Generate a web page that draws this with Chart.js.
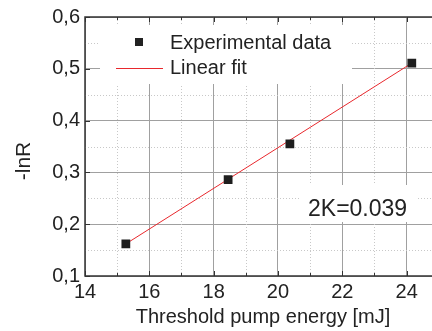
<!DOCTYPE html>
<html>
<head>
<meta charset="utf-8">
<script src="https://cdn.jsdelivr.net/npm/chart.js@4/dist/chart.umd.min.js"></script>
<style>
  html, body { margin: 0; padding: 0; background: #fff; overflow: hidden; }
  #wrap { width: 432px; height: 331px; overflow: hidden; }
</style>
</head>
<body>
<div id="wrap"><canvas id="chart" width="445" height="331"></canvas></div>
<script>
// measured points
const energy = [15.27, 18.45, 20.37, 24.16];
const lnR = [0.162, 0.286, 0.355, 0.511];

// linear fit end points
const fitX = [15.27, 24.16];
const fitY = [0.162, 0.511];

// minor (dotted) grid values
const xMinor = [15, 17, 19, 21, 23, 25];
const yMinor = [0.15, 0.25, 0.35, 0.45, 0.55];

const FONT = '"Liberation Sans", Arial, sans-serif';

const decor = {
    id: 'decor',
    beforeDatasetsDraw(chart) {
        const { ctx, chartArea: a, scales: { x, y } } = chart;
        ctx.save();
        // dotted minor grid
        ctx.strokeStyle = '#c8c8c8';
        ctx.lineWidth = 1;
        ctx.setLineDash([1, 2]);
        xMinor.forEach(v => {
            const px = Math.round(x.getPixelForValue(v)) + 0.5;
            ctx.beginPath(); ctx.moveTo(px, a.top); ctx.lineTo(px, a.bottom); ctx.stroke();
        });
        yMinor.forEach(v => {
            const py = Math.round(y.getPixelForValue(v)) + 0.5;
            ctx.beginPath(); ctx.moveTo(a.left, py); ctx.lineTo(a.right, py); ctx.stroke();
        });
        ctx.setLineDash([]);

        // white boxes behind legend and label
        ctx.fillStyle = '#fff';
        ctx.fillRect(100, 25, 252, 59);
        ctx.fillRect(300, 185, 116, 37);

        // inner ticks
        ctx.strokeStyle = '#333';
        ctx.lineWidth = 1;
        x.ticks.forEach(t => {
            const px = Math.round(x.getPixelForValue(t.value)) + 0.5;
            ctx.beginPath();
            ctx.moveTo(px, a.bottom); ctx.lineTo(px, a.bottom - 5);
            ctx.moveTo(px, a.top); ctx.lineTo(px, a.top + 5);
            ctx.stroke();
        });
        xMinor.forEach(v => {
            const px = Math.round(x.getPixelForValue(v)) + 0.5;
            ctx.beginPath();
            ctx.moveTo(px, a.bottom); ctx.lineTo(px, a.bottom - 3);
            ctx.moveTo(px, a.top); ctx.lineTo(px, a.top + 3);
            ctx.stroke();
        });
        y.ticks.forEach(t => {
            const py = Math.round(y.getPixelForValue(t.value)) + 0.5;
            ctx.beginPath(); ctx.moveTo(a.left, py); ctx.lineTo(a.left + 5, py); ctx.stroke();
        });

        // frame
        ctx.strokeStyle = '#333';
        ctx.lineWidth = 1.5;
        ctx.beginPath();
        ctx.moveTo(a.right, a.top); ctx.lineTo(a.left, a.top);
        ctx.lineTo(a.left, a.bottom); ctx.lineTo(a.right, a.bottom);
        ctx.stroke();
        ctx.restore();
    },
    afterDraw(chart) {
        const { ctx } = chart;
        ctx.save();
        ctx.fillStyle = '#222';
        ctx.textBaseline = 'alphabetic';

        // legend
        ctx.fillRect(135, 38, 8, 8);
        ctx.strokeStyle = '#e8282d';
        ctx.lineWidth = 1;
        ctx.beginPath(); ctx.moveTo(116, 68.5); ctx.lineTo(163, 68.5); ctx.stroke();
        ctx.font = '20px ' + FONT;
        ctx.textAlign = 'left';
        ctx.fillText('Experimental data', 170, 49);
        ctx.fillText('Linear fit', 170, 74);

        // annotation
        ctx.font = '23px ' + FONT;
        ctx.fillText('2K=0.039', 308, 216);

        // axis titles
        ctx.font = '20px ' + FONT;
        ctx.textAlign = 'center';
        ctx.fillText('Threshold pump energy [mJ]', 263, 323);
        ctx.translate(30, 161);
        ctx.rotate(-Math.PI / 2);
        ctx.font = '21px ' + FONT;
        ctx.fillText('-lnR', 0, 0);
        ctx.restore();
    }
};

new Chart(document.getElementById('chart').getContext('2d'), {
    type: 'scatter',
    data: {
        datasets: [
            {
                label: 'Linear fit',
                data: fitX.map((v, i) => ({ x: v, y: fitY[i] })),
                showLine: true,
                borderColor: '#e8282d',
                borderWidth: 1,
                pointRadius: 0,
                order: 2
            },
            {
                label: 'Experimental data',
                data: energy.map((v, i) => ({ x: v, y: lnR[i] })),
                pointStyle: 'rect',
                pointRadius: 6.2,
                backgroundColor: '#1e1e1e',
                borderColor: '#1e1e1e',
                borderWidth: 0,
                order: 1
            }
        ]
    },
    options: {
        responsive: false,
        animation: false,
        layout: { padding: { left: 0, top: 15, right: 6, bottom: 0 } },
        plugins: { legend: { display: false }, tooltip: { enabled: false } },
        scales: {
            x: {
                type: 'linear',
                min: 14,
                max: 25,
                afterFit: s => { s.height = 55; },
                grid: { color: '#a0a0a0', lineWidth: 1, drawTicks: false },
                border: { display: false },
                ticks: {
                    stepSize: 2,
                    includeBounds: false,
                    padding: 4,
                    color: '#222',
                    font: { family: FONT, size: 20 }
                }
            },
            y: {
                type: 'linear',
                min: 0.1,
                max: 0.6,
                afterFit: s => { s.width = 85; },
                grid: { color: '#a0a0a0', lineWidth: 1, drawTicks: false },
                border: { display: false },
                ticks: {
                    stepSize: 0.1,
                    padding: 5,
                    color: '#222',
                    font: { family: FONT, size: 20 },
                    callback: v => v.toFixed(1).replace('.', ',')
                }
            }
        }
    },
    plugins: [decor]
});
</script>
</body>
</html>
